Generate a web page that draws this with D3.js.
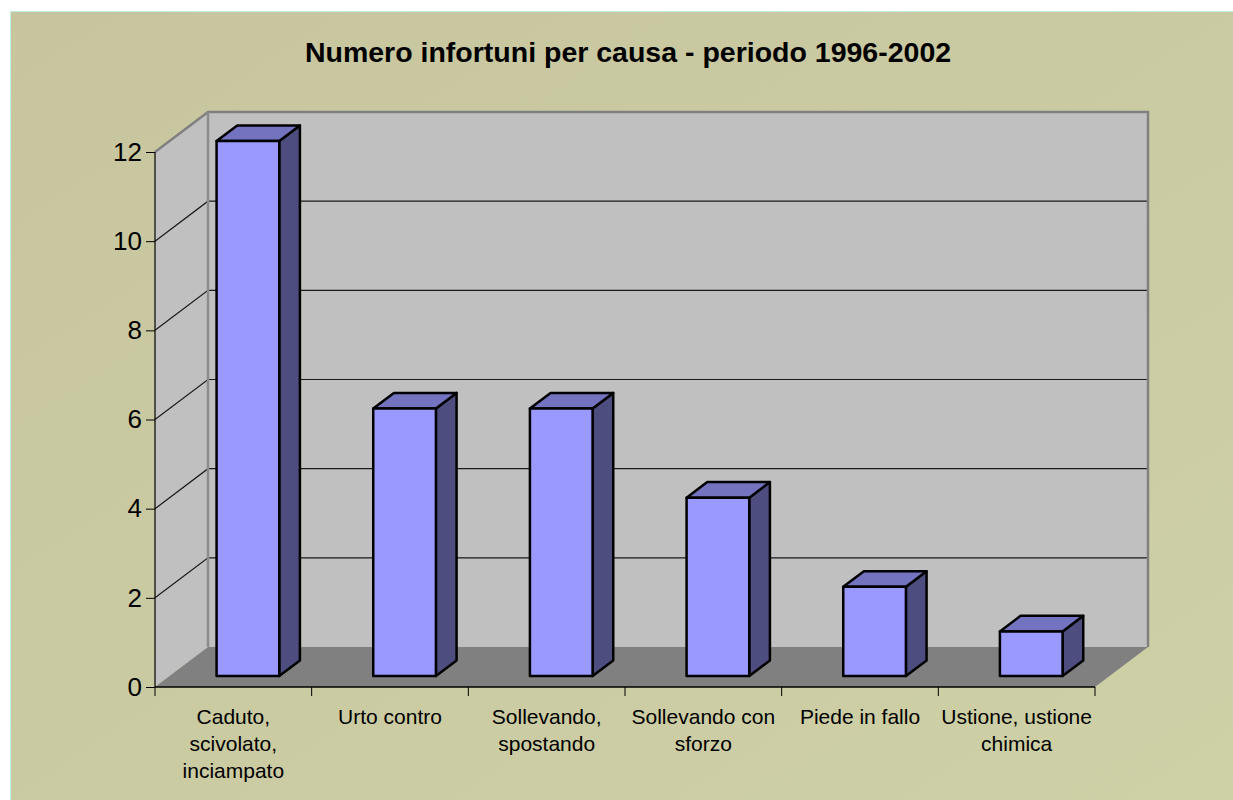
<!DOCTYPE html>
<html><head><meta charset="utf-8">
<script src="https://cdn.jsdelivr.net/npm/d3@7"></script>
<style>html,body{margin:0;padding:0;background:#fff;}svg{display:block;}</style>
</head><body>
<script>
const title = "Numero infortuni per causa - periodo 1996-2002";
const categories = ["Caduto,\nscivolato,\ninciampato", "Urto contro", "Sollevando,\nspostando", "Sollevando con\nsforzo", "Piede in fallo", "Ustione, ustione\nchimica"];
const values = [12, 6, 6, 4, 2, 1];
const yTicks = [0, 2, 4, 6, 8, 10, 12];

(function () {
const W = 1233, H = 800;
const svg = d3.select("body").append("svg").attr("width", W).attr("height", H);

const defs = svg.append("defs");
const g = defs.append("linearGradient").attr("id","bg").attr("x1","0").attr("y1","0").attr("x2","1").attr("y2","1");
g.append("stop").attr("offset","0").attr("stop-color","#C7C59E");
g.append("stop").attr("offset","1").attr("stop-color","#CED0A6");

svg.append("rect").attr("x",10).attr("y",11).attr("width",W-10).attr("height",H-11).attr("fill","url(#bg)");
svg.append("line").attr("x1",10.5).attr("x2",10.5).attr("y1",11).attr("y2",H).attr("stroke","#BFEFE6").attr("stroke-width",1);
svg.append("line").attr("x1",10).attr("x2",W).attr("y1",11.5).attr("y2",11.5).attr("stroke","#BFEFE6").attr("stroke-width",1);

// geometry
const pLeft = 155, pRight = 1095, pBottom = 687, pTop = 152;
const DX = 53, DY = 40;
const x = d3.scaleBand().domain(categories).range([pLeft, pRight]).paddingInner(0.6).paddingOuter(0.3);
const y = d3.scaleLinear().domain([0, 12]).range([pBottom, pTop]);
const P = (px, py, t) => [px + t * DX, py - t * DY];
const poly = pts => "M" + pts.map(p => p.join(",")).join("L") + "Z";

// side wall
svg.append("path").attr("d", poly([[pLeft, y(12)], P(pLeft, y(12), 1), P(pLeft, y(0), 1), [pLeft, y(0)]])).attr("fill", "#C0C0C0");
// back wall
svg.append("path").attr("d", poly([P(pLeft, y(12), 1), P(pRight, y(12), 1), P(pRight, y(0), 1), P(pLeft, y(0), 1)])).attr("fill", "#C0C0C0");

// gridlines
const gridVals = yTicks.filter(v => v > 0 && v < 12);
svg.append("g").selectAll("path").data(gridVals).join("path")
  .attr("d", v => { const a = [pLeft, y(v)], b = P(pLeft, y(v), 1), c = P(pRight, y(v), 1); return "M" + a + "L" + b + "L" + c; })
  .attr("fill", "none").attr("stroke", "#1a1a1a").attr("stroke-width", 1.2);

// wall borders
svg.append("path").attr("d", "M" + [pLeft, y(12)] + "L" + P(pLeft, y(12), 1) + "L" + P(pRight, y(12), 1) + "L" + P(pRight, y(0), 1))
  .attr("fill", "none").attr("stroke", "#808080").attr("stroke-width", 2.5).attr("stroke-linejoin","miter");
svg.append("line").attr("x1", pLeft + DX).attr("x2", pLeft + DX).attr("y1", y(12) - DY).attr("y2", y(0) - DY)
  .attr("stroke", "#8C8C8C").attr("stroke-width", 2.5);

// floor
svg.append("path").attr("d", poly([[pLeft, y(0)], P(pLeft, y(0), 1), P(pRight, y(0), 1), [pRight, y(0)]])).attr("fill", "#808080");

// bars
const tF = 0.275, tB = 0.665;
const bars = svg.append("g");
categories.forEach((c, i) => {
  const x0 = x(c), x1 = x(c) + x.bandwidth();
  const yb = y(0), yt = y(values[i]);
  const gb = bars.append("g").attr("stroke", "#000").attr("stroke-width", 2.5).attr("stroke-linejoin", "round");
  gb.append("path").attr("d", poly([P(x1, yt, tF), P(x1, yt, tB), P(x1, yb, tB), P(x1, yb, tF)])).attr("fill", "#4D4D80");
  gb.append("path").attr("d", poly([P(x0, yt, tF), P(x0, yt, tB), P(x1, yt, tB), P(x1, yt, tF)])).attr("fill", "#7373C0");
  gb.append("path").attr("d", poly([P(x0, yt, tF), P(x1, yt, tF), P(x1, yb, tF), P(x0, yb, tF)])).attr("fill", "#9999FF");
});

// axes
svg.append("line").attr("x1", pLeft).attr("x2", pLeft).attr("y1", y(12)).attr("y2", y(0)).attr("stroke", "#000").attr("stroke-width", 1.2);
svg.append("line").attr("x1", pLeft).attr("x2", pRight).attr("y1", y(0)).attr("y2", y(0)).attr("stroke", "#000").attr("stroke-width", 1.5);

const yAxis = d3.axisLeft(y).tickValues(yTicks).tickSize(9).tickPadding(4);
const ya = svg.append("g").attr("transform", `translate(${pLeft},0)`).call(yAxis);
ya.select(".domain").remove();
ya.selectAll("line").attr("stroke", "#000");
ya.selectAll("text").attr("font-family", "Liberation Sans, Arial, sans-serif").attr("font-size", 26).attr("fill", "#000");

// x ticks
const xTickPos = categories.map(c => x(c) - x.step() * 0.3).concat([pRight]);
svg.append("g").selectAll("line").data(xTickPos).join("line")
  .attr("x1", d => d).attr("x2", d => d).attr("y1", y(0)).attr("y2", y(0) + 9)
  .attr("stroke", "#000").attr("stroke-width", 1);

// x labels
const xl = svg.append("g").attr("font-family", "Liberation Sans, Arial, sans-serif").attr("font-size", 21).attr("text-anchor", "middle").attr("fill", "#000");
categories.forEach(c => {
  const cx = x(c) + x.bandwidth() / 2;
  const t = xl.append("text").attr("x", cx).attr("y", 724);
  c.split("\n").forEach((ln, j) => t.append("tspan").attr("x", cx).attr("dy", j === 0 ? 0 : 27).text(ln));
});

// title
svg.append("text").attr("x", 628).attr("y", 62).attr("text-anchor", "middle")
  .attr("font-family", "Liberation Sans, Arial, sans-serif").attr("font-weight", "bold").attr("font-size", 28.5)
  .text(title);
})();
</script>
</body></html>
